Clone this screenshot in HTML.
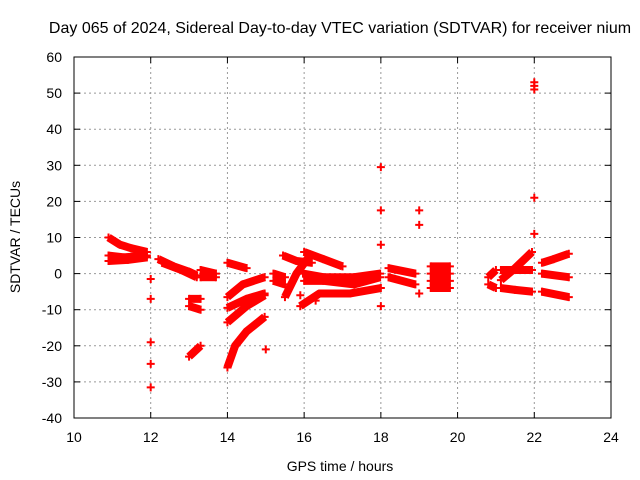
<!DOCTYPE html>
<html><head><meta charset="utf-8"><style>
body{margin:0;background:#fff}
svg{display:block;font-family:"Liberation Sans",sans-serif;font-size:14px}
</style></head><body>
<svg id="chart" width="640" height="480">
<text x="340" y="33" text-anchor="middle" style="font-size:16px">Day 065 of 2024, Sidereal Day-to-day VTEC variation (SDTVAR) for receiver nium</text>
<g id="grid"></g>
<g id="axes"></g>
<g id="marks"></g>
<text x="340" y="471" text-anchor="middle">GPS time / hours</text>
<text transform="translate(20,237) rotate(-90)" text-anchor="middle">SDTVAR / TECUs</text>
</svg>
<script>
const xTicks=[10,12,14,16,18,20,22,24];
const yTicks=[60,50,40,30,20,10,0,-10,-20,-30,-40];
// tracks: lists of [hour, TECU]
const tracks=[
[[10.9,10],[11.2,8],[11.5,7],[11.9,6]],
[[10.9,5],[11.3,4.5],[11.9,5]],
[[10.9,3.5],[11.4,3.8],[11.9,4.5]],
[[12.2,4],[12.6,2],[13.0,0.5],[13.2,-0.5]],
[[12.3,3],[12.8,1],[13.2,-1]],
[[13.3,1],[13.7,0]],
[[13.3,-1],[13.7,-1]],
[[13.0,-7],[13.3,-7]],
[[13.0,-9],[13.3,-10]],
[[13.0,-23],[13.3,-20]],
[[14.0,3],[14.5,1.5]],
[[14.0,-6.5],[14.4,-3],[14.97,-1]],
[[14.0,-9.5],[14.5,-7],[14.97,-5.5]],
[[14.0,-13.5],[14.5,-9],[14.97,-6]],
[[14.0,-26],[14.2,-20],[14.5,-16],[14.97,-12]],
[[15.2,0],[15.5,-1]],
[[15.2,-2],[15.5,-3]],
[[15.45,5],[15.8,3.5],[16.2,3]],
[[16.0,6],[16.5,4],[17.0,2]],
[[15.5,-6.5],[15.8,0],[16.15,5]],
[[15.97,0],[16.5,-1],[17.3,-1],[17.98,0]],
[[16.0,-2],[16.5,-2],[17.3,-3],[17.98,-1]],
[[15.9,-9],[16.4,-5.5],[17.2,-5.5],[18.0,-4]],
[[18.2,1.5],[18.9,0]],
[[18.2,-1],[18.9,-3]],
[[19.3,2],[19.8,2]],
[[19.3,0],[19.8,0]],
[[19.3,-2],[19.8,-2]],
[[19.3,-4],[19.8,-4]],
[[20.8,-1],[21.0,1]],
[[20.8,-3],[21.0,-4]],
[[21.13,-1.8],[21.5,1.5],[21.94,6]],
[[21.13,1],[21.94,1]],
[[21.13,-4],[21.5,-4.5],[21.94,-5]],
[[22.2,3],[22.5,4],[22.9,5.5]],
[[22.2,0],[22.9,-1]],
[[22.2,-5],[22.9,-6.5]]
];
const pointsT=[12,12,12,12,12,15,18,18,18,18,19,19,19,22,22,22,22,22,15.9,16.3];
const pointsV=[-1.5,-7,-19,-25,-31.5,-21,29.5,17.5,8,-9,17.5,13.5,-5.5,53,52,51,21,11,-6,-7.5];
const X=t=>74+(t-10)*(537/14);
const Y=v=>57+(60-v)*(361/100);
const NS='http://www.w3.org/2000/svg';
const grid=document.getElementById('grid'),axes=document.getElementById('axes'),marks=document.getElementById('marks');
function mk(tag,at,parent){const e=document.createElementNS(NS,tag);for(const k in at)e.setAttribute(k,at[k]);parent.appendChild(e);return e;}
xTicks.forEach(t=>{
 if(t>10&&t<24){const g=mk('line',{x1:X(t),x2:X(t),y1:57,y2:418,stroke:'#999','stroke-dasharray':'2,3'},grid);
 
 }
 const l=mk('text',{x:X(t),y:442,'text-anchor':'middle'},axes);l.textContent=t;
 
 
 mk('line',{x1:X(t),x2:X(t),y1:418,y2:412,stroke:'#000'},axes);
 mk('line',{x1:X(t),x2:X(t),y1:57,y2:63,stroke:'#000'},axes);
});
yTicks.forEach(v=>{
 if(v<60&&v>-40){const g=mk('line',{x1:74,x2:611,y1:Y(v),y2:Y(v),stroke:'#999','stroke-dasharray':'2,3'},grid);
 
 }
 const l=mk('text',{x:62,y:Y(v)+5,'text-anchor':'end'},axes);l.textContent=v;
 
 
 mk('line',{x1:74,x2:80,y1:Y(v),y2:Y(v),stroke:'#000'},axes);
 mk('line',{x1:611,x2:605,y1:Y(v),y2:Y(v),stroke:'#000'},axes);
});
const fr=mk('rect',{x:74,y:57,width:537,height:361,fill:'none',stroke:'#000'},axes);


function plus(t,v){const p=mk('path',{d:`M${X(t)-4},${Y(v)}h8M${X(t)},${Y(v)-4}v8`,stroke:'#f00','stroke-width':2},marks);
 
 }
tracks.forEach(tr=>{
 const pl=mk('polyline',{points:tr.map(p=>X(p[0])+','+Y(p[1])).join(' '),fill:'none',stroke:'#f00','stroke-width':8,'stroke-linejoin':'round'},marks);
 
 
 tr.forEach(p=>plus(p[0],p[1]));
});
pointsT.forEach((t,i)=>plus(t,pointsV[i]));
</script>
</body></html>
